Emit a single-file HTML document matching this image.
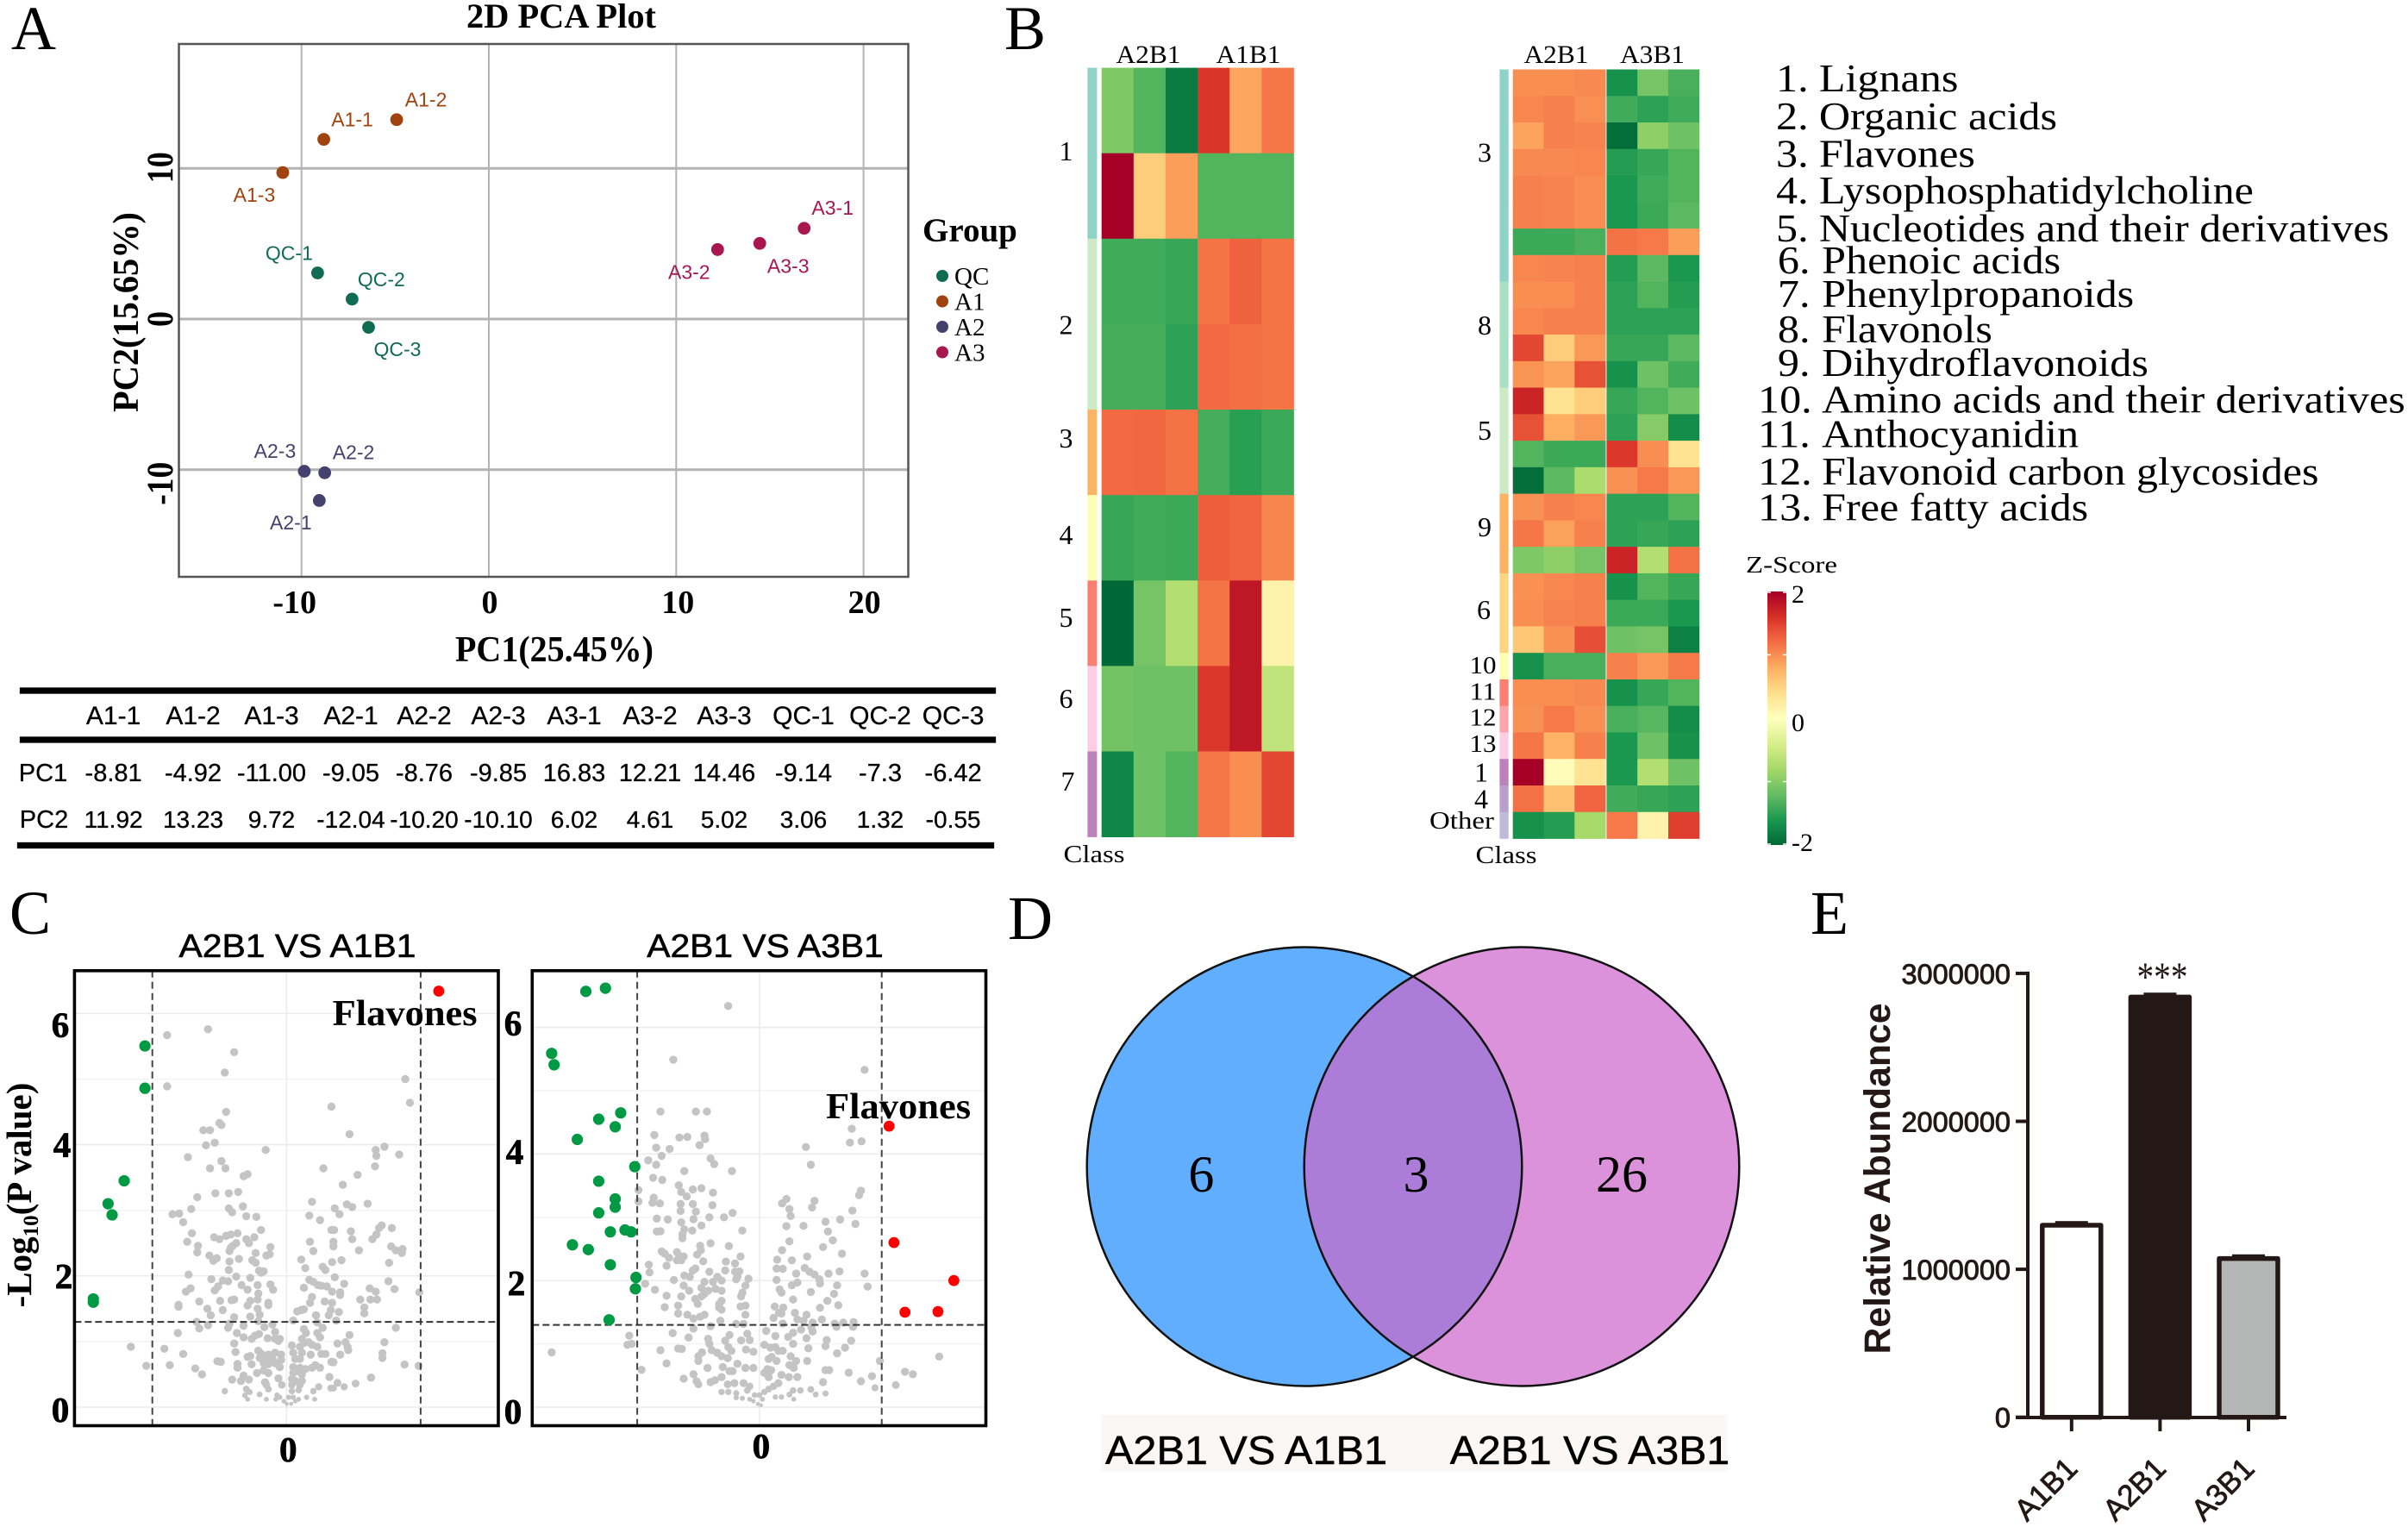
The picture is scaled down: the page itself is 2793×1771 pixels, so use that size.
<!DOCTYPE html>
<html lang="en">
<head>
<meta charset="utf-8">
<title>Metabolomics multi-panel figure</title>
<style>
html,body{margin:0;padding:0;background:#fff;}
#figure{display:block;width:2793px;height:1771px;background:#fff;}
.sf{font-family:"Liberation Serif",serif;}
.sa{font-family:"Liberation Sans",sans-serif;}
.b{font-weight:bold;}
.m{text-anchor:middle;}
.e{text-anchor:end;}
</style>
</head>
<body>
<svg id="figure" xmlns="http://www.w3.org/2000/svg" width="2793" height="1771" viewBox="0 0 2793 1771">
  <rect x="0" y="0" width="2793" height="1771" fill="#fff"/>

  <!-- panel letters -->
  <text class="sf" x="13" y="57" font-size="72">A</text>
  <text class="sf" x="1165" y="57" font-size="72">B</text>
  <text class="sf" x="11" y="1083" font-size="72">C</text>
  <text class="sf" x="1169" y="1089" font-size="72">D</text>
  <text class="sf" x="2100" y="1083" font-size="72">E</text>

  <!-- panel A -->
  <g id="pca">
    <text class="sf b m" x="651" y="32" font-size="40" textLength="220" lengthAdjust="spacingAndGlyphs">2D PCA Plot</text>
    <g id="pca-grid"></g>
    <rect x="207.5" y="51" width="846" height="618" fill="none" stroke="#555" stroke-width="2.5"/>
    <g id="pca-ticks"></g>
    <g id="pca-points"></g>
    <text class="sf b m" x="643" y="767" font-size="42" textLength="230" lengthAdjust="spacingAndGlyphs">PC1(25.45%)</text>
    <text class="sf b m" transform="translate(160,362) rotate(-90)" font-size="42" textLength="232" lengthAdjust="spacingAndGlyphs">PC2(15.65%)</text>
    <text class="sf b" x="1070" y="280" font-size="39">Group</text>
    <g id="pca-legend"></g>
  </g>
  <g id="pca-table" stroke="#000" stroke-width="0.3">
    <rect x="23" y="797.5" width="1132" height="7" fill="#000"/>
    <rect x="23" y="854.5" width="1132" height="7" fill="#000"/>
    <rect x="20" y="977" width="1133" height="7" fill="#000"/>
    <text class="sa m" x="50" y="906" font-size="29">PC1</text>
    <text class="sa m" x="51" y="960" font-size="29">PC2</text>
  </g>

  <!-- panel B -->
  <g id="heat1">
    <text class="sf m" x="1332" y="73" font-size="30" textLength="75" lengthAdjust="spacingAndGlyphs">A2B1</text>
    <text class="sf m" x="1448" y="73" font-size="30" textLength="75" lengthAdjust="spacingAndGlyphs">A1B1</text>
    <text class="sf m" x="1269" y="1000" font-size="29" textLength="71" lengthAdjust="spacingAndGlyphs">Class</text>
  </g>
  <g id="heat2">
    <text class="sf m" x="1805" y="73" font-size="30" textLength="75" lengthAdjust="spacingAndGlyphs">A2B1</text>
    <text class="sf m" x="1916.5" y="73" font-size="30" textLength="75" lengthAdjust="spacingAndGlyphs">A3B1</text>
    <text class="sf m" x="1747" y="1001" font-size="29" textLength="71" lengthAdjust="spacingAndGlyphs">Class</text>
  </g>

  <g class="sf" font-size="46" transform="translate(2039,1) scale(1.09,1)">
    <text y="105"><tspan x="19.3">1.</tspan><tspan x="65">Lignans</tspan></text>
    <text y="149"><tspan x="19.3">2.</tspan><tspan x="65">Organic acids</tspan></text>
    <text y="192.5"><tspan x="19.3">3.</tspan><tspan x="65">Flavones</tspan></text>
    <text y="235"><tspan x="19.3">4.</tspan><tspan x="65">Lysophosphatidylcholine</tspan></text>
    <text y="279"><tspan x="19.3">5.</tspan><tspan x="65">Nucleotides and their derivatives</tspan></text>
    <text y="316"><tspan x="21">6.</tspan><tspan x="68">Phenoic acids</tspan></text>
    <text y="355"><tspan x="21">7.</tspan><tspan x="68">Phenylpropanoids</tspan></text>
    <text y="396"><tspan x="21">8.</tspan><tspan x="68">Flavonols</tspan></text>
    <text y="435"><tspan x="21">9.</tspan><tspan x="68">Dihydroflavonoids</tspan></text>
    <text y="477.5"><tspan x="0">10.</tspan><tspan x="68">Amino acids and their derivatives</tspan></text>
    <text y="517.5"><tspan x="0">11.</tspan><tspan x="68">Anthocyanidin</tspan></text>
    <text y="561"><tspan x="0">12.</tspan><tspan x="68">Flavonoid carbon glycosides</tspan></text>
    <text y="602.5"><tspan x="0">13.</tspan><tspan x="68">Free fatty acids</tspan></text>
  </g>

  <g id="colorbar">
    <defs><linearGradient id="zgrad" x1="0" y1="1" x2="0" y2="0"></linearGradient></defs>
    <text class="sf m" x="2078" y="664" font-size="27" textLength="106" lengthAdjust="spacingAndGlyphs">Z-Score</text>
  </g>

  <!-- panel C -->
  <g id="volcano1">
    <text class="sa m" x="345" y="1110" font-size="38" textLength="275" lengthAdjust="spacingAndGlyphs" stroke="#000" stroke-width="0.6">A2B1 VS A1B1</text>
  </g>
  <g id="volcano2">
    <text class="sa m" x="887.5" y="1110" font-size="38" textLength="274.5" lengthAdjust="spacingAndGlyphs" stroke="#000" stroke-width="0.6">A2B1 VS A3B1</text>
  </g>
  <text class="sf b" transform="translate(36,1386) rotate(-90)" text-anchor="middle" font-size="41">-Log<tspan font-size="25" dy="8">10</tspan><tspan dy="-8">(P value)</tspan></text>

  <!-- panel D -->
  <g>
    <ellipse cx="1513" cy="1353" rx="252.3" ry="254.5" fill="#61aefe"/>
    <ellipse cx="1765" cy="1353" rx="252.3" ry="254.5" fill="#dc92db"/>
    <clipPath id="leftclip"><ellipse cx="1513" cy="1353" rx="252.3" ry="254.5"/></clipPath>
    <ellipse cx="1765" cy="1353" rx="252.3" ry="254.5" fill="#ab7dd8" clip-path="url(#leftclip)"/>
    <ellipse cx="1513" cy="1353" rx="252.3" ry="254.5" fill="none" stroke="#111" stroke-width="2.5"/>
    <ellipse cx="1765" cy="1353" rx="252.3" ry="254.5" fill="none" stroke="#111" stroke-width="2.5"/>
    <text class="sf m" x="1393.4" y="1382" font-size="60">6</text>
    <text class="sf m" x="1642.5" y="1382" font-size="60">3</text>
    <text class="sf m" x="1881" y="1382" font-size="60">26</text>
    <rect x="1277.4" y="1641" width="726.2" height="66" fill="#faf7f4"/>
    <text class="sa m" x="1445.5" y="1698" font-size="46" textLength="327" lengthAdjust="spacingAndGlyphs" stroke="#000" stroke-width="0.5">A2B1 VS A1B1</text>
    <text class="sa m" x="1844" y="1698" font-size="46" textLength="324.5" lengthAdjust="spacingAndGlyphs" stroke="#000" stroke-width="0.5">A2B1 VS A3B1</text>
  </g>

  <!-- panel E -->
  <g id="bars">
    <text class="sa b m" transform="translate(2192,1367) rotate(-90)" font-size="42.5" textLength="407" lengthAdjust="spacingAndGlyphs" fill="#231815">Relative Abundance</text>
  </g>
</svg>

<script>
/* ---------- PCA data (as printed in the table) ---------- */
var sampleNames = ["A1-1","A1-2","A1-3","A2-1","A2-2","A2-3","A3-1","A3-2","A3-3","QC-1","QC-2","QC-3"];
var pc1Printed = ["-8.81","-4.92","-11.00","-9.05","-8.76","-9.85","16.83","12.21","14.46","-9.14","-7.3","-6.42"];
var pc2Printed = ["11.92","13.23","9.72","-12.04","-10.20","-10.10","6.02","4.61","5.02","3.06","1.32","-0.55"];
var pcaGroups = ["A1","A1","A1","A2","A2","A2","A3","A3","A3","QC","QC","QC"];
var pcaXTicks = [-10,0,10,20];
var pcaYTicks = [-10,0,10];
var pcaLegendGroups = ["QC","A1","A2","A3"];

/* ---------- Heatmap data (z-scores) ---------- */
var heat1Rows = [
 [-1.05,-1.3,-1.84,1.57,.85,1.14],
 [2,.55,.9,-1.3,-1.3,-1.3],
 [-1.4,-1.4,-1.45,1.16,1.27,1.16],
 [-1.37,-1.37,-1.5,1.22,1.19,1.16],
 [1.22,1.24,1.17,-1.38,-1.52,-1.42],
 [-1.45,-1.4,-1.42,1.3,1.25,1.05],
 [-2,-1.1,-.7,1.16,1.8,.15],
 [-1.12,-1.15,-1.15,1.55,1.8,-.6],
 [-1.75,-1.15,-1.3,1.14,1.0,1.45]
];
var heat1Classes = ["1","2","3","4","5","6","7"];
var heat1ClassCounts = [2,2,1,1,1,1,1];
var heat2Rows = [
 [1,1,1.02,-1.65,-1.1,-1.35],
 [1.04,1.08,.99,-1.4,-1.5,-1.4],
 [.86,1.08,1.06,-1.95,-.95,-1.15],
 [1.02,1.02,1.04,-1.55,-1.45,-1.3],
 [1.08,1.06,1,-1.6,-1.4,-1.3],
 [1.08,1.06,1,-1.62,-1.42,-1.25],
 [-1.42,-1.42,-1.35,1.17,1.12,.9],
 [1.04,1.06,1.08,-1.55,-1.25,-1.6],
 [1,1,1.08,-1.5,-1.3,-1.55],
 [1.04,1.08,1.08,-1.5,-1.5,-1.5],
 [1.45,.55,.93,-1.45,-1.45,-1.25],
 [.96,.86,1.38,-1.65,-1.15,-1.4],
 [1.7,.35,.55,-1.45,-1.3,-1.15],
 [1.38,.8,.93,-1.5,-1,-1.7],
 [-1.3,-1.42,-1.42,1.55,1,.35],
 [-1.95,-1.25,-.75,.98,1.12,.93],
 [.98,1.08,1.04,-1.5,-1.5,-1.3],
 [1.14,.88,1.08,-1.5,-1.45,-1.5],
 [-1.05,-.95,-1.1,1.7,-.7,1.18],
 [.98,1.04,1.08,-1.65,-1.3,-1.45],
 [1,1.06,1.08,-1.42,-1.42,-1.6],
 [.6,.98,1.4,-1.15,-1.1,-1.8],
 [-1.65,-1.35,-1.35,1.08,.93,1.12],
 [1,1,1.02,-1.65,-1.45,-1.3],
 [.98,1.12,.98,-1.35,-1.28,-1.7],
 [1.14,.75,1.08,-1.6,-1.15,-1.65],
 [2,.05,.35,-1.6,-.7,-1.15],
 [1.18,.65,1.26,-1.4,-1.45,-1.5],
 [-1.65,-1.55,-.8,1.12,.15,1.5]
];
var heat2Classes = ["3","8","5","9","6","10","11","12","13","1","4","Other"];
var heat2ClassCounts = [8,4,4,3,3,1,1,1,1,1,1,1];
var zStops = [-2,-1.6,-1.2,-.8,-.4,0,.4,.8,1.2,1.6,2];
var colorbarTicks = [2,0,-2];

/* ---------- Volcano data: [log2FC, -log10 p] ---------- */
var volcano1Down = [[-1.055,5.505],[-1.055,4.86],[-1.21,3.45],[-1.33,3.10],[-1.30,2.93],[-1.44,1.65],[-1.44,1.6]];
var volcano1Up = [[1.135,6.34]];
var volcano1Gray = [[-.89,5.67],[-.585,5.76],[-.39,5.41],[-.46,5.10],[-.89,4.89],[.885,5.0],[.92,4.64],[.335,4.58],[-.45,4.50],[-.50,4.33],[-.485,4.30],[-.62,4.22],[-.57,4.22],[-.535,4.03],[-.60,3.99],[-.735,3.81],[-.155,3.92],[.47,4.16],[.73,3.97],[.665,3.92],[.67,3.83],[.84,3.85],[.66,3.67],[-.485,3.75],[-.57,3.64],[-.455,3.64],[.275,3.64],[.53,3.54],[-.32,3.52],[-.29,3.55],[.42,3.39],[-.36,3.28],[-.53,3.26],[-.43,3.26],[-.665,3.20],[.19,3.13],[.45,3.09],[.605,3.10],[.49,3.05],[.36,3.03],[-.71,3.02],[-.325,3.06],[-.43,3.03],[-.405,2.97],[-.85,2.94],[-.80,2.95],[.395,2.94],[-.30,2.91],[-.225,2.90],[.17,2.92],[-.77,2.82],[.25,2.85],[.71,2.77],[.785,2.73],[.69,2.73],[.67,2.63],[-.19,2.70],[.335,2.70],[.355,2.70],[.48,2.68],[-.705,2.65],[-.54,2.59],[-.50,2.56],[-.45,2.61],[-.415,2.63],[-.365,2.65],[-.30,2.56],[-.24,2.59],[-.28,2.50],[.49,2.56],[.64,2.56],[-.74,2.52],[.175,2.52],[.35,2.52],[.35,2.45],[-.375,2.50],[-.40,2.46],[-.415,2.43],[-.425,2.38],[-.66,2.46],[-.665,2.36],[-.12,2.44],[.78,2.45],[.815,2.39],[.865,2.41],[.86,2.35],[.54,2.39],[.20,2.38],[-.23,2.35],[-.15,2.31],[-.125,2.33],[-.575,2.31],[-.52,2.27],[-.545,2.23],[-.355,2.26],[-.425,2.22],[-.255,2.24],[-.23,2.20],[.11,2.25],[.41,2.24],[.34,2.21],[.765,2.20],[.14,2.12],[.27,2.14],[.29,2.09],[-.205,2.08],[-.17,2.07],[-.43,2.09],[-.19,2.05],[-.73,2.02],[-.375,1.99],[-.27,1.97],[.36,1.98],[-.56,1.95],[-.475,1.93],[-.435,1.92],[.17,1.94],[.20,1.91],[.76,1.92],[.43,1.88],[-.12,1.87],[-.335,1.86],[-.215,1.86],[.235,1.86],[.26,1.85],[.30,1.84],[-.51,1.84],[-.715,1.81],[-.535,1.78],[-.29,1.79],[.13,1.82],[-.10,1.79],[.62,1.81],[.805,1.80],[.665,1.76],[-.75,1.76],[.99,1.75],[.34,1.76],[.40,1.75],[.40,1.71],[-.21,1.73],[.19,1.68],[-.65,1.61],[-.495,1.62],[-.41,1.63],[-.39,1.64],[-.27,1.62],[-.215,1.64],[.55,1.64],[.625,1.64],[.675,1.64],[.285,1.61],[-.135,1.59],[.175,1.59],[.34,1.59],[-.805,1.56],[-.805,1.53],[-.29,1.55],[-.135,1.555],[.58,1.52],[-.59,1.50],[-.475,1.48],[-.215,1.50],[.13,1.49],[.11,1.48],[.08,1.46],[.33,1.48],[.39,1.45],[-.565,1.40],[-.27,1.38],[-.20,1.41],[.22,1.40],[.315,1.40],[.58,1.43],[-.39,1.37],[.05,1.32],[.37,1.32],[.23,1.29],[-.67,1.30],[-.425,1.27],[-.105,1.26],[-.21,1.31],[-.585,1.25],[-.32,1.24],[-.65,1.20],[-.435,1.21],[-.165,1.22],[.13,1.19],[.27,1.21],[.815,1.21],[-.81,1.13],[-.37,1.13],[-.085,1.145],[.145,1.13],[.23,1.13],[.47,1.10],[-.32,1.065],[-.26,1.04],[-.235,1.09],[-.205,1.115],[-.14,1.05],[-.085,1.04],[-.05,1.04],[.115,1.04],[.25,1.065],[.73,.99],[-.39,.97],[-.06,1.01],[.13,.98],[.165,.99],[.38,.97],[.44,.99],[.04,.94],[.10,.92],[.19,.95],[.23,.92],[-1.16,.92],[-.91,.89],[.455,.92],[.46,.87],[-.38,.84],[-.21,.86],[.05,.83],[.115,.83],[.26,.81],[.29,.81],[-.77,.81],[-.29,.765],[-.27,.78],[-.185,.81],[-.135,.80],[-.085,.83],[-.04,.80],[.40,.80],[.715,.82],[.715,.75],[-.20,.75],[-.15,.75],[-.105,.735],[-.04,.72],[.065,.735],[.10,.735],[.18,.80],[-.515,.70],[-.49,.69],[-.17,.67],[-.135,.655],[-.085,.67],[.335,.69],[.35,.685],[-.365,.66],[-.26,.655],[-.87,.64],[.88,.65],[.985,.63],[-1.045,.63],[-.365,.60],[-.68,.59],[.05,.61],[.10,.60],[.215,.64],[.25,.60],[-.17,.56],[-.05,.61],[.08,.55],[.14,.58],[.19,.60],[-.22,.52],[-.135,.52],[.05,.52],[.115,.50],[-.63,.50],[-.32,.48],[-.06,.44],[-.405,.42],[-.34,.40],[-.28,.42],[.04,.43],[.065,.40],[.115,.40],[.32,.46],[.63,.45],[-.16,.38],[-.15,.34],[-.035,.34],[.04,.34],[.10,.34],[.38,.37],[.515,.36],[.24,.31],[.33,.29],[.43,.31],[.35,.29],[-.30,.275],[-.135,.275],[.04,.245],[.09,.26],[.20,.245],[-.275,.23],[-.20,.195],[-.07,.18],[-.05,.15],[.015,.15],[.05,.15],[-.31,.18],[.15,.15],[-.15,.12],[-.08,.12],[-.02,.09],[.002,.05],[.035,.05],[.065,.09],[.09,.12],[.21,.12],[-.29,.12],[-.46,.245]];

var volcano2Down = [[-1.42,6.57],[-1.26,6.62],[-1.70,5.59],[-1.68,5.41],[-1.135,4.65],[-1.315,4.55],[-1.18,4.43],[-1.49,4.23],[-1.02,3.80],[-1.315,3.57],[-1.18,3.29],[-1.18,3.16],[-1.315,3.07],[-1.22,2.77],[-1.10,2.80],[-1.05,2.77],[-1.53,2.565],[-1.40,2.49],[-1.22,2.25],[-1.01,2.05],[-1.015,1.87],[-1.23,1.38]];
var volcano2Up = [[1.06,4.44],[1.10,2.60],[1.59,2.00],[1.19,1.50],[1.46,1.51]];
var volcano2Gray = [[-.256,6.34],[-.705,5.49],[.86,5.33],[-.81,4.67],[-.52,4.67],[-.43,4.67],[.755,4.40],[.74,4.18],[.835,4.20],[-.86,4.30],[-.655,4.26],[-.59,4.27],[-.45,4.29],[-.445,4.235],[-.49,4.14],[-.845,4.10],[-.735,4.08],[.38,4.11],[-.80,3.97],[-.40,3.93],[-.91,3.90],[-.845,3.83],[-.37,3.84],[.42,3.83],[-.615,3.73],[-.225,3.73],[-.87,3.625],[-.795,3.59],[-.66,3.505],[.83,3.42],[.815,3.35],[-.99,3.43],[-.64,3.40],[-.545,3.44],[-.475,3.46],[-.38,3.39],[-.595,3.33],[-.865,3.31],[-.875,3.23],[-.815,3.22],[-.99,3.25],[.22,3.29],[.45,3.26],[.185,3.22],[-.645,3.21],[-.545,3.21],[-.385,3.19],[.43,3.155],[.245,3.13],[-.645,3.10],[-.52,3.09],[.76,3.105],[-.22,3.07],[.255,3.02],[-.29,3.00],[-.41,3.00],[-.54,2.97],[-.84,2.98],[-.75,2.965],[.66,2.965],[.54,2.93],[-.64,2.92],[.785,2.895],[-.475,2.87],[.22,2.86],[.36,2.865],[-.615,2.81],[-.55,2.79],[-.14,2.79],[-.84,2.775],[-.81,2.78],[.56,2.775],[-.63,2.73],[-.63,2.67],[.60,2.635],[.245,2.62],[-.40,2.59],[-.485,2.55],[-.25,2.545],[.52,2.53],[-.48,2.48],[.185,2.48],[-.80,2.46],[-.675,2.45],[-.51,2.41],[.675,2.425],[-.775,2.425],[-.74,2.36],[-.655,2.39],[-.62,2.38],[-.155,2.38],[.39,2.38],[-.675,2.32],[-.64,2.32],[.145,2.33],[.265,2.32],[-.46,2.305],[-.275,2.30],[-.20,2.27],[-.905,2.25],[-.76,2.235],[.14,2.19],[.19,2.185],[.37,2.20],[-.525,2.19],[-.545,2.16],[-.28,2.16],[-.20,2.14],[-.165,2.145],[-.41,2.14],[-.90,2.13],[.41,2.14],[.655,2.145],[.30,2.11],[.565,2.11],[.86,2.11],[-.615,2.08],[-.57,2.06],[-.345,2.06],[-.18,2.06],[.45,2.095],[.49,2.02],[-.70,2.01],[-.19,2.02],[-.09,2.03],[-.31,2.00],[.14,2.01],[-.38,1.98],[-.45,1.98],[.31,1.97],[.495,1.955],[-.935,1.95],[.265,1.925],[-.115,1.92],[.635,1.925],[-.62,1.92],[-.475,1.885],[-.36,1.87],[.885,1.905],[-.855,1.855],[.165,1.86],[-.575,1.84],[-.42,1.84],[-.31,1.84],[.18,1.81],[.42,1.82],[-.14,1.81],[-.45,1.79],[.61,1.79],[-.15,1.75],[-.76,1.76],[-.64,1.75],[-.475,1.75],[-.525,1.71],[.275,1.70],[-.31,1.68],[.555,1.68],[-.505,1.63],[-.33,1.63],[-.775,1.58],[-.665,1.605],[.645,1.61],[-.155,1.59],[-.115,1.605],[.125,1.59],[.195,1.575],[.495,1.57],[-.33,1.575],[-.31,1.54],[-.665,1.48],[.16,1.49],[.18,1.48],[.29,1.49],[.385,1.46],[-.115,1.46],[-.59,1.46],[-.45,1.46],[-.485,1.43],[-.54,1.40],[.115,1.41],[.31,1.385],[-.32,1.365],[.51,1.385],[.36,1.365],[.435,1.335],[.19,1.32],[.615,1.32],[.685,1.335],[.77,1.345],[-.19,1.315],[-.13,1.315],[-.40,1.28],[.765,1.27],[-.54,1.24],[.425,1.26],[.34,1.225],[.63,1.27],[.055,1.205],[.435,1.195],[-.71,1.17],[-1.065,1.13],[-.10,1.16],[-.245,1.14],[.275,1.175],[.13,1.125],[.235,1.11],[-.58,1.10],[.385,1.09],[-.42,1.08],[.55,1.06],[-.28,1.05],[-.15,1.055],[-.08,1.06],[.75,1.05],[.275,1.00],[.54,.965],[-1.08,.985],[-1.045,1.00],[-.41,1.00],[.04,.985],[-.255,.95],[.09,.94],[-.39,.90],[.13,.95],[.40,.93],[-.81,.90],[.70,.94],[-.665,.925],[-.635,.92],[-.11,.91],[-.05,.875],[.155,.89],[-.345,.86],[-.47,.865],[-.23,.89],[.635,.85],[.19,.89],[-1.70,.865],[-.50,.805],[-.31,.805],[1.47,.80],[.10,.795],[-.26,.775],[.255,.805],[-.50,.73],[.075,.76],[.14,.73],[.39,.73],[.30,.73],[.985,.73],[-.18,.685],[-.76,.69],[.245,.665],[-.30,.635],[-.425,.62],[-.05,.62],[-.115,.62],[.28,.62],[.065,.60],[.095,.585],[-.965,.59],[.54,.585],[.57,.585],[-.245,.57],[-.22,.57],[.04,.54],[.73,.545],[1.19,.56],[-.54,.52],[.18,.51],[.31,.475],[.92,.49],[1.255,.52],[-.31,.475],[.24,.475],[.075,.475],[-.62,.45],[-.515,.41],[-.40,.395],[-.365,.425],[.83,.41],[.52,.395],[1.115,.35],[-.205,.38],[-.26,.36],[-.13,.38],[.155,.38],[.115,.33],[-.08,.33],[-.50,.36],[.945,.305],[-.31,.24],[-.255,.24],[-.19,.22],[-.10,.265],[.075,.285],[.04,.24],[.275,.265],[.335,.265],[.42,.28],[-.04,.19],[-.14,.14],[-.19,.15],[0,.19],[.13,.16],[-.08,.125],[.245,.2],[.46,.2],[.54,.215],[-.05,.095],[-.013,.05],[.013,.03],[.025,.125],[.18,.16],[.28,.125]];
var volcanoYTicks = [0,2,4,6];
var volcanoMinorYTicks = [1,3,5];
var volcanoPThreshold = [1.3];
var volcanoFcThresholds = [-1,1];

/* ---------- Bar chart data ---------- */
var barCategories = ["A1B1","A2B1","A3B1"];
var barValues = [1298000,2840000,1073000];
var barErrors = [22000,24000,22000];
var barYTicks = [0,1000000,2000000,3000000];

/* ---------- Styling lookups ---------- */
var SVGNS = "http://www.w3.org/2000/svg";
var groupColor = {QC:"#0f6b52",A1:"#a0430f",A2:"#45416f",A3:"#a8174f"};
var rampColors = ["#006837","#1a9850","#66bd63","#a6d96a","#d9ef8b","#ffffbf","#fee08b","#fdae61","#f46d43","#d73027","#a50026"];
var heat1ClassColors = ["#8dd3c7","#ccebc5","#fdb462","#ffffb3","#fb8072","#fccde5","#bc80bd"];
var heat2ClassColors = ["#8dd3c7","#a9dfc4","#ccebc5","#fdb462","#fed581","#ffffb3","#fb8072","#fda5ab","#fccde5","#bc80bd","#b99fcb","#bebada"];
var pcaLabelOffsets = {"A1-1":[33,-23],"A1-2":[34,-23],"A1-3":[-33,26],"A2-1":[-33,25.5],"A2-2":[33.4,-24],"A2-3":[-34,-23.5],"A3-1":[33,-24],"A3-2":[-33,26],"A3-3":[33,26],"QC-1":[-33,-23],"QC-2":[34,-23],"QC-3":[33.5,25.4]};

function mk(tag, parent, attrs, text){
  var el = document.createElementNS(SVGNS, tag);
  for (var k in attrs) el.setAttribute(k, attrs[k]);
  if (text !== undefined) el.textContent = text;
  parent.appendChild(el);
  return el;
}
function hexToRgb(h){ return [parseInt(h.substr(1,2),16),parseInt(h.substr(3,2),16),parseInt(h.substr(5,2),16)]; }
function zColor(z){
  var v = Math.max(-2, Math.min(2, z));
  for (var i = 0; i < zStops.length - 1; i++){
    if (v <= zStops[i+1]){
      var t = (v - zStops[i]) / (zStops[i+1] - zStops[i]);
      var a = hexToRgb(rampColors[i]), b = hexToRgb(rampColors[i+1]);
      return "rgb(" + Math.round(a[0]+(b[0]-a[0])*t) + "," + Math.round(a[1]+(b[1]-a[1])*t) + "," + Math.round(a[2]+(b[2]-a[2])*t) + ")";
    }
  }
  return rampColors[rampColors.length-1];
}

/* ---------- Panel A ---------- */
(function(){
  var xS = function(v){ return 567 + 21.73 * v; };
  var yS = function(v){ return 370 - 17.48 * v; };
  var grid = document.getElementById("pca-grid");
  var ticks = document.getElementById("pca-ticks");
  var pts = document.getElementById("pca-points");
  var legend = document.getElementById("pca-legend");
  pcaXTicks.forEach(function(t){
    var g = mk("line", grid, {x1:xS(t),x2:xS(t),y1:51,y2:669,stroke:"#b3b3b3","stroke-width":2});
    
    
    var lb = mk("text", ticks, {x:xS(t)-(t<0?8:(t==10?-2:-1)),y:711,"font-size":38,"class":"sf b m"}, String(t));
    
    
  });
  pcaYTicks.forEach(function(t){
    var g = mk("line", grid, {x1:207,x2:1053,y1:yS(t),y2:yS(t),stroke:"#b3b3b3","stroke-width":3});
    
    
    var off = t < 0 ? 16 : (t > 0 ? -1 : 0);
    var lb = mk("text", ticks, {transform:"translate(200,"+(yS(t)+off)+") rotate(-90)","font-size":43,"class":"sf b m",textLength:t<0?50:t===0?18:36,lengthAdjust:"spacingAndGlyphs"}, String(t));
    
    
  });
  sampleNames.forEach(function(n,i){
    var x = xS(parseFloat(pc1Printed[i])), y = yS(parseFloat(pc2Printed[i]));
    var c = groupColor[pcaGroups[i]];
    var d = mk("circle", pts, {cx:x,cy:y,r:7.4,fill:c});
    
    
    var o = pcaLabelOffsets[n];
    var lb = mk("text", pts, {x:x+o[0],y:y+o[1]+8,"font-size":23,"class":"sa m",fill:c}, n);
    
    
  });
  pcaLegendGroups.forEach(function(g,i){
    var yy = 320 + i * 29.5;
    var d = mk("circle", legend, {cx:1093,cy:yy,r:7,fill:groupColor[g]});
    
    
    var t = mk("text", legend, {x:1107,y:yy+10,"font-size":29,"class":"sf"}, g);
    
    
  });

  /* table */
  var table = document.getElementById("pca-table");
  var colX = [131.6,224,315,407,492,578,666,754,840,932,1021,1105.6];
  sampleNames.forEach(function(n,i){
    var h = mk("text", table, {x:colX[i],y:840,"font-size":30,"class":"sa m"}, n);
    
    
    var a = mk("text", table, {x:colX[i],y:906,"font-size":29,"class":"sa m"}, pc1Printed[i]);
    
    
    var b = mk("text", table, {x:colX[i],y:960,"font-size":28,"class":"sa m"}, pc2Printed[i]);
    
    
  });
})();

/* ---------- Panel B ---------- */
function drawHeat(rootId, rows, classes, counts, colors, cfg){
  var root = document.getElementById(rootId);
  var rowH = (cfg.bottom - cfg.top) / rows.length;
  rows.forEach(function(row,r){
    row.forEach(function(z,c){
      var x = cfg.left + c * cfg.colW + (c >= 3 ? cfg.gap : 0);
      var cell = mk("rect", root, {x:x,y:cfg.top+r*rowH,width:cfg.colW+0.4,height:rowH+0.4,fill:zColor(z)});
      
      
    });
  });
  var start = 0;
  classes.forEach(function(name,i){
    var y0 = cfg.top + start * rowH, h = counts[i] * rowH;
    var seg = mk("rect", root, {x:cfg.barX,y:y0,width:cfg.barW,height:h+0.3,fill:colors[i]});
    
    
    var lx = name === "Other" ? cfg.labelX - 26.5 : (name.length > 1 ? cfg.labelX - 2 : cfg.labelX - cfg.singleDx[i]);
    var lb = mk("text", root, {x:lx,y:y0+h/2+11+(cfg.labelDy[i]||0),"font-size":name.length>1?29:32,"class":"sf m"}, name);
    if (name.length > 1) lb.setAttribute("textLength", name === "Other" ? 75 : 31);
    if (name.length > 1) lb.setAttribute("lengthAdjust", "spacingAndGlyphs");
    
    
    start += counts[i];
  });
}
drawHeat("heat1", heat1Rows, heat1Classes, heat1ClassCounts, heat1ClassColors,
  {left:1277.7,colW:37.13,gap:0,top:78.6,bottom:970.6,barX:1261.4,barW:11,labelX:1236.5,labelDy:[-2.7,0.7,-16.6,-3.7,-7,-12,-15],singleDx:[0,0,0,0,0,0,-2]});
drawHeat("heat2", heat2Rows, heat2Classes, heat2ClassCounts, heat2ClassColors,
  {left:1754.7,colW:35.8,gap:1.3,top:80.5,bottom:972.5,barX:1739.4,barW:10.3,labelX:1722,labelDy:[-27,-11,-12,-8,-4,-2.6,-3,-3.5,-4,0,0,-7],singleDx:[0,0,0,0,1,0,0,0,0,4,4,0]});

(function(){
  var grad = document.getElementById("zgrad");
  zStops.forEach(function(z,i){
    mk("stop", grad, {offset:(z+2)/4,"stop-color":rampColors[i]});
  });
  var root = document.getElementById("colorbar");
  var top = 686, bottom = 980;
  var yS = function(v){ return bottom - (v + 2) / 4 * (bottom - top); };
  var bar = mk("rect", root, {x:2050,y:top,width:22,height:bottom-top,fill:"url(#zgrad)"});
  
  
  [2,1,-1,-2].forEach(function(t){
    var yy = Math.max(top+1, Math.min(bottom-1, yS(t)));
    var a = mk("line", root, {x1:2050,x2:2054,y1:yy,y2:yy,stroke:"#fff","stroke-width":1.5});
    
    
    var b = mk("line", root, {x1:2068,x2:2072,y1:yy,y2:yy,stroke:"#fff","stroke-width":1.5});
    
    
  });
  colorbarTicks.forEach(function(t){
    var lb = mk("text", root, {x:2078,y:Math.min(987, yS(t)+(t===2?13:t===0?15:7)),"font-size":30,"class":"sf"}, String(t));
    
    
  });
})();

/* ---------- Panel C ---------- */
function drawVolcano(rootId, gray, down, up, cfg){
  var root = document.getElementById(rootId);
  var xS = function(v){ return cfg.x0 + cfg.xu * v; };
  var yS = function(v){ return cfg.y0 - cfg.yu * v; };
  volcanoMinorYTicks.forEach(function(t){
    var g = mk("line", root, {x1:cfg.left,x2:cfg.right,y1:yS(t),y2:yS(t),stroke:"#f3f3f3","stroke-width":1.5});
    
    
  });
  volcanoYTicks.forEach(function(t){
    var g = mk("line", root, {x1:cfg.left,x2:cfg.right,y1:yS(t),y2:yS(t),stroke:"#ebebeb","stroke-width":1.5});
    
    
    var lb = mk("text", root, {x:cfg.tickX+(t===6?-2:t===4?0:t===2?2:-2),y:yS(t)+cfg.tickDy[t/2],"font-size":41,"class":"sf b m",stroke:"#000","stroke-width":0.8}, String(t));
    
    
  });
  var vg = mk("line", root, {x1:xS(0),x2:xS(0),y1:cfg.top,y2:cfg.bottom,stroke:"#ebebeb","stroke-width":1.5});
  
  
  gray.forEach(function(p){
    var d = mk("circle", root, {cx:xS(p[0]),cy:yS(p[1]),r:Math.min(4.7, 2 + p[1] * 7),fill:"#c4c4c4"});
    
    
  });
  volcanoFcThresholds.forEach(function(t){
    var l = mk("line", root, {x1:xS(t),x2:xS(t),y1:cfg.top,y2:cfg.bottom,stroke:"#444","stroke-width":2,"stroke-dasharray":"8 5"});
    
    
  });
  volcanoPThreshold.forEach(function(t){
    var l = mk("line", root, {x1:cfg.left,x2:cfg.right,y1:yS(t),y2:yS(t),stroke:"#333","stroke-width":2,"stroke-dasharray":"8 4"});
    
    
  });
  down.forEach(function(p){
    var d = mk("circle", root, {cx:xS(p[0]),cy:yS(p[1]),r:6.6,fill:"#009944"});
    
    
  });
  up.forEach(function(p){
    var d = mk("circle", root, {cx:xS(p[0]),cy:yS(p[1]),r:6.4,fill:"#ff0000"});
    
    
  });
  var fr = mk("rect", root, {x:cfg.left,y:cfg.top,width:cfg.right-cfg.left,height:cfg.bottom-cfg.top,fill:"none",stroke:"#000","stroke-width":3.6});
  
  
  var xl = mk("text", root, {x:cfg.x0+cfg.xlabDx,y:cfg.xlabY,"font-size":41,"class":"sf b m",stroke:"#000","stroke-width":0.8}, "0");
  
  
  var an = mk("text", root, {x:cfg.annX,y:cfg.annY,"font-size":42,"class":"sf b m",textLength:168,lengthAdjust:"spacingAndGlyphs"}, "Flavones");
  
  
}
drawVolcano("volcano1", volcano1Gray, volcano1Down, volcano1Up,
  {left:86.4,right:578,top:1125.8,bottom:1653.5,x0:332.3,xu:155.6,y0:1632,yu:76.1,tickX:72,tickDy:[17,14,14,27],annX:469.6,annY:1189,xlabDx:2,xlabY:1695});
drawVolcano("volcano2", volcano2Gray, volcano2Down, volcano2Up,
  {left:617.3,right:1143.5,top:1125.8,bottom:1653.5,x0:880.9,xu:141.8,y0:1632,yu:73.4,tickX:597,tickDy:[19,17,11,9],annX:1042,annY:1297,xlabDx:2,xlabY:1691});

/* ---------- Panel E ---------- */
(function(){
  var root = document.getElementById("bars");
  var yS = function(v){ return 1643.7 - v * 171.6 / 1000000; };
  var centers = {i0:2402.8,step:102.6};
  var ink = "#231815";
  var fills = ["#ffffff","#231815","#b5b6b6"];
  barValues.forEach(function(v,i){
    var cx = centers.i0 + i * centers.step;
    var top = yS(v);
    var cap = mk("rect", root, {x:cx-19,y:yS(v+barErrors[i])-1,width:38,height:top-yS(v+barErrors[i])+3,fill:ink});
    
    
    var b = mk("rect", root, {x:cx-34,y:top,width:68,height:1643.7-top,fill:fills[i],stroke:ink,"stroke-width":5.5,"stroke-linejoin":"round"});
    
    
    var t = mk("line", root, {x1:cx,x2:cx,y1:1644,y2:1660,stroke:ink,"stroke-width":4});
    
    
    var lb = mk("text", root, {transform:"translate("+(cx-30)+",1727) rotate(-45)","font-size":35,"class":"sa m",y:12,fill:ink,stroke:ink,"stroke-width":0.8}, barCategories[i]);
    
    
  });
  barYTicks.forEach(function(t){
    var l = mk("line", root, {x1:2338,x2:2352,y1:yS(t),y2:yS(t),stroke:ink,"stroke-width":4});
    
    
    var lb = mk("text", root, {x:2332,y:yS(t)+12,"font-size":32.5,"class":"sa e",fill:ink,stroke:ink,"stroke-width":0.9}, String(t));
    
    
  });
  var ya = mk("line", root, {x1:2352,x2:2352,y1:yS(3000000)-2,y2:1645.7,stroke:ink,"stroke-width":4});
  
  
  var xa = mk("line", root, {x1:2338,x2:2652,y1:1644,y2:1644,stroke:ink,"stroke-width":4});
  
  
  var sig = mk("text", root, {x:2508,y:1149,"font-size":48,"class":"sf m",fill:ink,textLength:59,lengthAdjust:"spacingAndGlyphs"}, "***");
  
  
})();
</script>
</body>
</html>
